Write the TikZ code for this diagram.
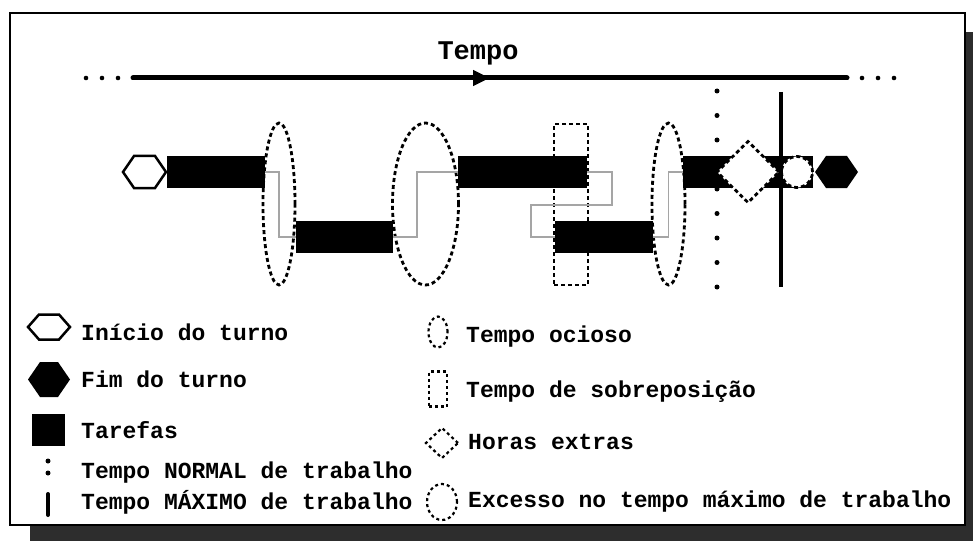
\documentclass[tikz,border=0pt]{standalone}
\usepackage{fontspec}
\setmainfont{Liberation Mono}
\usetikzlibrary{shapes.geometric,arrows.meta,decorations.markings}

\definecolor{linkgray}{RGB}{165,165,165}
\definecolor{shadowgray}{RGB}{45,45,45}

% hexagon drawn inside a named rectangular node
\newcommand\hexshape[3][11pt]{%
  \path[#3] (#2.west) -- ([xshift=#1]#2.north west) -- ([xshift=-#1]#2.north east)
    -- (#2.east) -- ([xshift=-#1]#2.south east) -- ([xshift=#1]#2.south west) -- cycle;}

\begin{document}
\begin{tikzpicture}[x=1pt,y=-1pt,
  font=\bfseries\fontsize{23}{27}\selectfont,
  frame/.style={draw=black, line width=2.5pt, fill=white},
  task/.style={rectangle, fill=black, inner sep=0pt, outer sep=0pt, minimum height=32pt},
  hexbox/.style={rectangle, inner sep=0pt, outer sep=0pt},
  dsh/.style={draw=black, line width=2.8pt, dash pattern=on 4pt off 3pt, inner sep=0pt, outer sep=0pt},
  dshsmall/.style={draw=black, line width=2.2pt, dash pattern=on 3pt off 3pt, inner sep=0pt, outer sep=0pt},
  idle/.style={ellipse, dsh},
  overlap/.style={rectangle, dsh},
  extra/.style={diamond, dsh, fill=white},
  excess/.style={circle, dsh, fill=white},
  link/.style={draw=linkgray, line width=1.5pt},
  label/.style={anchor=base west, inner sep=0pt},
  timeline/.style={line width=5pt, line cap=round, postaction={decorate},
    decoration={markings, mark=at position 0.5 with {\arrow{Triangle[length=17pt,width=15pt]}}}},
  limit/.style={line width=4pt},
]
\useasboundingbox (0,0) rectangle (973,540);

% panel with drop shadow
\fill[shadowgray] (30,32) rectangle (995,560);
\draw[frame] (10,13) rectangle (965,525);

% time axis
\node[font=\bfseries\fontsize{27}{32}\selectfont, anchor=base, inner sep=0pt] (title) at (478,60) {Tempo};
\coordinate (tl-a) at (133,78);
\coordinate (tl-b) at (847,78);
\draw[timeline] (tl-a) -- (tl-b);
\foreach \x in {86,102,118,862,878,894} \fill (\x,78) circle (2.3pt);

% shift start
\node[hexbox, minimum width=43pt, minimum height=32pt] (start) at (144.5,172) {};
\hexshape{start}{draw, line width=2.5pt, fill=white}

% tasks
\node[task, minimum width=98pt]  (t1) at (216,172) {};
\node[task, minimum width=97pt]  (t2) at (344.5,237) {};
\node[task, minimum width=129pt] (t3) at (522.5,172) {};
\node[task, minimum width=98pt]  (t4) at (603.5,237) {};
\node[task, minimum width=130pt] (t5) at (748,172) {};

% idle / overlap markers
\node[idle, minimum width=32pt, minimum height=162pt] (e1) at (279,204) {};
\node[idle, minimum width=66pt, minimum height=162pt] (e2) at (425.5,204) {};
\node[overlap, minimum width=34pt, minimum height=161pt] (ov) at (571,204.5) {};
\node[idle, minimum width=33pt, minimum height=162pt] (e3) at (668.5,204) {};

% task sequence
\draw[link] (t1.east) -- (t1.east -| e1.center) -- (t2.west -| e1.center) -- (t2.west);
\draw[link] (t2.east) -- ([xshift=24pt]t2.east) |- (t3.west);
\draw[link] (t3.east) -- ++(25,0) -- ++(0,33) -- ++(-81,0) |- (t4.west);
\draw[link] (t4.east) -- (t4.east -| e3.center) |- (t5.west);

% overtime and excess
\node[extra, minimum width=62pt, minimum height=61pt] (ot) at (748,172) {};
\node[excess, minimum size=31pt] (ex) at (797,172) {};

% shift end
\node[hexbox, minimum width=43pt, minimum height=32pt] (end) at (836.5,172) {};
\hexshape{end}{fill=black}

% normal and maximum working time
\foreach \k in {0,...,8} \fill (717,91+24.5*\k) circle (2.5pt);
\coordinate (mx-top) at (781,92);
\coordinate (mx-bot) at (781,287);
\draw[limit] (mx-top) -- (mx-bot);

% legend, left column
\node[hexbox, minimum width=42pt, minimum height=25pt] (lg-start) at (49,327) {};
\hexshape{lg-start}{draw, line width=2.5pt, fill=white}
\node[label] (lt-start) at (81,340) {Início do turno};

\node[hexbox, minimum width=42pt, minimum height=35pt] (lg-end) at (49,379.5) {};
\hexshape[12pt]{lg-end}{fill=black}
\node[label] (lt-end) at (81,387) {Fim do turno};

\node[task, minimum width=33pt, minimum height=32pt] (lg-task) at (48.5,430) {};
\node[label] (lt-task) at (81,438) {Tarefas};

\fill (48,461) circle (2.5pt) (48,473) circle (2.5pt);
\node[label] (lt-normal) at (81,478) {Tempo NORMAL de trabalho};

\coordinate (lg-max-a) at (48,494);
\coordinate (lg-max-b) at (48,515);
\draw[limit, line cap=round] (lg-max-a) -- (lg-max-b);
\node[label] (lt-max) at (81,509) {Tempo MÁXIMO de trabalho};

% legend, right column
\node[ellipse, dshsmall, minimum width=19pt, minimum height=31pt] (lg-idle) at (438,332) {};
\node[label] (lt-idle) at (466,342) {Tempo ocioso};

\node[rectangle, dshsmall, minimum width=18pt, minimum height=35pt] (lg-ov) at (438,389) {};
\node[label] (lt-ov) at (466,397) {Tempo de sobreposição};

\node[diamond, dshsmall, minimum width=32pt, minimum height=30pt] (lg-ot) at (442,443) {};
\node[label] (lt-ot) at (468,449) {Horas extras};

\node[ellipse, dshsmall, minimum width=30pt, minimum height=36pt] (lg-ex) at (442,502) {};
\node[label] (lt-ex) at (468,507) {Excesso no tempo máximo de trabalho};
\end{tikzpicture}
\end{document}
